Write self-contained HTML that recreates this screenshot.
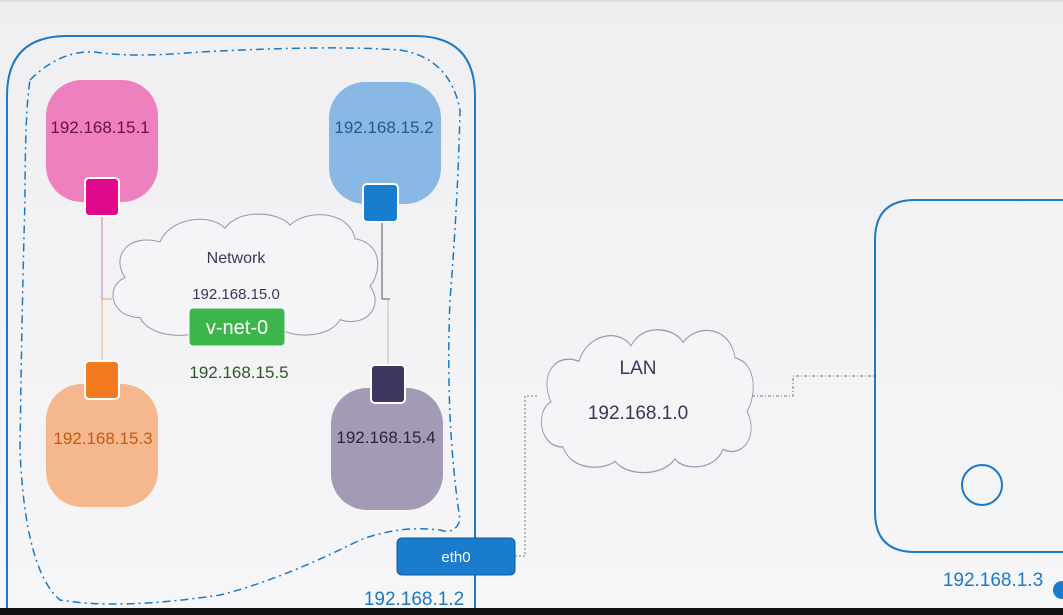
<!DOCTYPE html>
<html><head><meta charset="utf-8"><style>
html,body{margin:0;padding:0;background:#f3f3f5;}
svg{display:block;font-family:"Liberation Sans",sans-serif;}
</style></head><body>
<svg width="1063" height="615" viewBox="0 0 1063 615" xmlns="http://www.w3.org/2000/svg">
<defs>
<linearGradient id="bg" x1="0" y1="0" x2="0" y2="1"><stop offset="0" stop-color="#efeff1"/><stop offset="1" stop-color="#f6f6f8"/></linearGradient>
<path id="cloud" d="M140,310 C110,310 105,280 125,272 C110,250 130,230 160,238 C170,215 210,210 225,225 C240,205 280,210 290,222 C310,205 350,210 355,235 C385,240 380,270 370,280 C385,300 365,320 340,312 C330,330 290,330 280,320 C265,335 220,335 205,322 C190,330 150,330 140,310 Z"/>
</defs>
<rect width="1063" height="615" fill="url(#bg)"/>
<rect x="0" y="0" width="1063" height="2" fill="#dcdcdc"/>
<path d="M7,640 L7,96 Q7,36 67,36 L415,36 Q475,36 475,96 L475,640" fill="none" stroke="#1a7ac8" stroke-width="2"/>
<path d="M30,80 Q60,50 95,52 Q130,58 200,52 Q330,45 400,50 Q450,58 460,110 Q458,200 450,300 Q445,420 460,520 Q455,535 440,530 Q400,525 360,540 Q280,580 220,595 Q120,610 60,600 Q25,570 20,450 Q22,300 25,200 Q25,110 30,80 Z" fill="none" stroke="#1a7ac8" stroke-width="1.5" stroke-dasharray="8,4,2,4"/>
<line x1="102" y1="216" x2="102" y2="299" stroke="#c080c0" stroke-width="1"/>
<line x1="102" y1="299" x2="102" y2="361" stroke="#f0b080" stroke-width="1"/>
<line x1="102" y1="299" x2="112" y2="299" stroke="#f0a060" stroke-width="1"/>
<line x1="382" y1="222" x2="382" y2="299" stroke="#555" stroke-width="1"/>
<line x1="382" y1="299" x2="390" y2="299" stroke="#555" stroke-width="1"/>
<line x1="388" y1="299" x2="388" y2="365" stroke="#bbb" stroke-width="1"/>
<rect x="46" y="80" width="112" height="122" rx="36" fill="#ee80c0"/>
<rect x="329" y="82" width="112" height="122" rx="36" fill="#8ab8e4"/>
<rect x="46" y="384" width="112" height="123" rx="36" fill="#f5b88e"/>
<rect x="331" y="388" width="112" height="122" rx="36" fill="#a39ab5"/>
<rect x="85" y="178" width="34" height="38" rx="4" fill="#e0098c" stroke="#fff" stroke-width="2"/>
<rect x="363" y="184" width="35" height="38" rx="4" fill="#1a7ccc" stroke="#fff" stroke-width="2"/>
<rect x="85" y="361" width="34" height="38" rx="4" fill="#f47a20" stroke="#fff" stroke-width="2"/>
<rect x="371" y="365" width="34" height="38" rx="4" fill="#3e3660" stroke="#fff" stroke-width="2"/>
<g font-size="17" text-anchor="middle">
<text x="100" y="133" fill="#6a1048">192.168.15.1</text>
<text x="384" y="133" fill="#1f5a90">192.168.15.2</text>
<text x="103" y="444" fill="#c85a10">192.168.15.3</text>
<text x="386" y="443" fill="#2a2640">192.168.15.4</text>
</g>
<g transform="translate(0,-8) scale(1,1.05)">
<use href="#cloud" fill="#f5f5f8" stroke="#9a98b0" stroke-width="1"/>
</g>
<text x="236" y="263" font-size="16" text-anchor="middle" fill="#3a3658">Network</text>
<text x="236" y="299" font-size="15" text-anchor="middle" fill="#3a3658">192.168.15.0</text>
<rect x="189" y="308" width="96" height="38" rx="4" fill="#3cb54a" stroke="#fff" stroke-width="1"/>
<text x="237" y="334" font-size="20" text-anchor="middle" fill="#fff">v-net-0</text>
<text x="239" y="378" font-size="17" text-anchor="middle" fill="#2a5a2a">192.168.15.5</text>
<rect x="397" y="538" width="118" height="37" rx="5" fill="#1a7ccc" stroke="#0f5a9a" stroke-width="1"/>
<text x="456" y="562" font-size="15" text-anchor="middle" fill="#fff">eth0</text>
<text x="414" y="605" font-size="19" text-anchor="middle" fill="#1a7ac8">192.168.1.2</text>
<path d="M515,556 L525,556 L525,396 L538,396" fill="none" stroke="#777" stroke-width="1" stroke-dasharray="2,2"/>
<path d="M752,396 L793,396 L793,376 L876,376" fill="none" stroke="#777" stroke-width="1" stroke-dasharray="3,2,1,2"/>
<g transform="translate(535,328) scale(0.8,1.19) translate(-105,-210)">
<use href="#cloud" fill="#f5f5f8" stroke="#9a98b0" stroke-width="1.1"/>
</g>
<text x="638" y="374" font-size="19" text-anchor="middle" fill="#3a3658">LAN</text>
<text x="638" y="419" font-size="19" text-anchor="middle" fill="#3a3658">192.168.1.0</text>
<path d="M1070,200 L915,200 Q875,200 875,240 L875,512 Q875,552 915,552 L1070,552" fill="none" stroke="#1a7ac8" stroke-width="2"/>
<circle cx="982" cy="485" r="20" fill="none" stroke="#1a7ac8" stroke-width="2"/>
<text x="993" y="586" font-size="19" text-anchor="middle" fill="#1a7ac8">192.168.1.3</text>
<circle cx="1062" cy="590" r="9" fill="#1a7ccc"/>
<rect x="0" y="608" width="1063" height="7" fill="#111"/>
</svg>
</body></html>
